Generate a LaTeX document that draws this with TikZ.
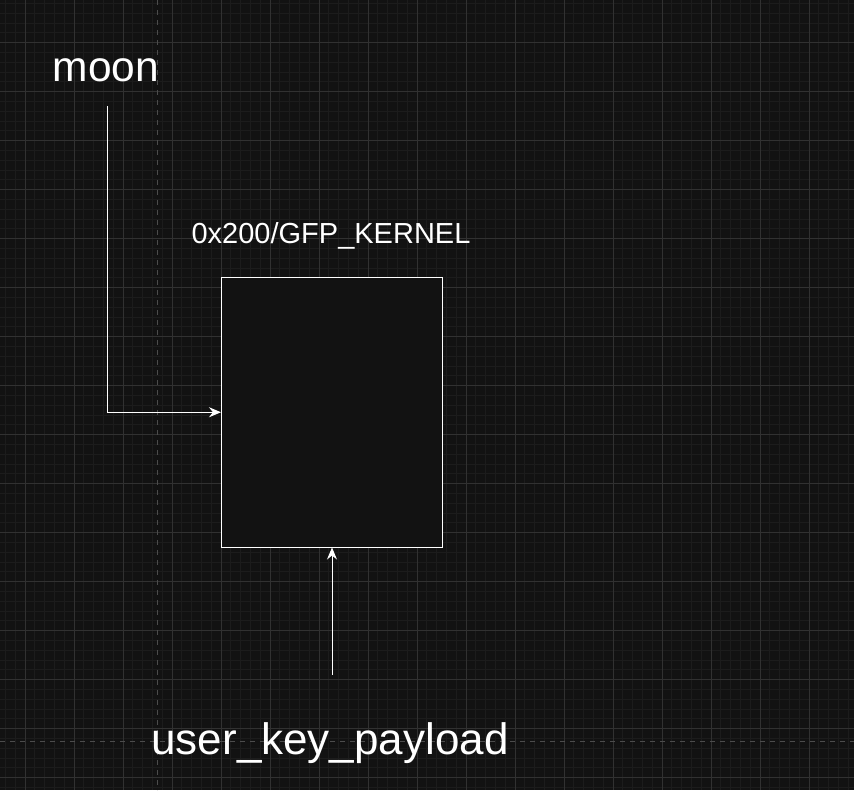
\documentclass[tikz,border=0pt]{standalone}
\usepackage{fontspec}
\setmainfont{Liberation Sans}
\usetikzlibrary{arrows.meta}
\definecolor{bg}{HTML}{121212}
\definecolor{minorc}{HTML}{1C1C1C}
\definecolor{majorc}{HTML}{313131}
\definecolor{pagec}{HTML}{4C4C4C}
\tikzset{
  minorline/.style={minorc, line width=1pt},
  majorline/.style={majorc, line width=1pt},
  pageline/.style={pagec, line width=1pt, dash pattern=on 5pt off 5pt},
  membox/.style={draw=white, fill=bg, line width=1pt, inner sep=0pt,
    minimum width=221pt, minimum height=269.5pt},
  lbl/.style={text=white, inner sep=0pt, anchor=base},
  conn/.style={draw=white, line width=1pt,
    -{Stealth[length=12pt,width=10pt,inset=4pt]}},
}
\begin{document}
\begin{tikzpicture}[x=1pt,y=-1pt]
\fill[bg] (0,0) rectangle (854,790);
\useasboundingbox (0,0) rectangle (854,790);
% minor grid
\foreach \i in {0,...,87} \draw[minorline] ({5.4+9.8*\i},0) -- ({5.4+9.8*\i},790);
\foreach \j in {0,...,80} \draw[minorline] (0,{3.5+9.8*\j}) -- (854,{3.5+9.8*\j});
% major grid
\foreach \i in {0,...,17} \draw[majorline] ({25+49*\i},0) -- ({25+49*\i},790);
\foreach \j in {0,...,16} \draw[majorline] (0,{42.7+49*\j}) -- (854,{42.7+49*\j});
% page borders
\draw[pageline] (157,0) -- (157,790);
\draw[pageline] (0,741) -- (854,741);
% content
\node[membox] (mem) at (332,412.25) {};
\node[lbl, font=\fontsize{42.5}{50}\selectfont] (moon) at (106,81) {moon};
\node[lbl, font=\fontsize{29}{35}\selectfont] (gfp) at (331,243.5) {0x200/GFP\_KERNEL};
\node[lbl, font=\fontsize{44}{52}\selectfont] (ukp) at (330,754) {user\_key\_payload};
\coordinate (s1) at (107.5,106);
\coordinate (s2) at (332,675);
\draw[conn] (s1) |- (mem.west);
\draw[conn] (s2) -- (mem.south);
\end{tikzpicture}
\end{document}
